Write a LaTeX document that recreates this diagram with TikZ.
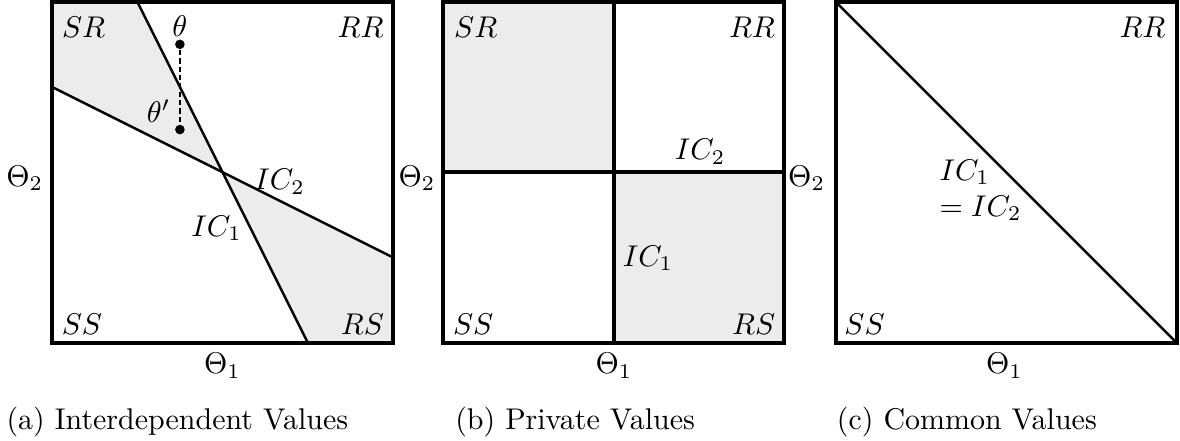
\documentclass[tikz,border=0pt]{standalone}
\usepackage{amsmath,amssymb}
\usepackage{tikz}

\begin{document}
\begin{tikzpicture}[
  box/.style={line width=1.3pt},
  ic/.style={thick},
  region/.style={fill=gray!15},
  dot/.style={circle, fill, inner sep=0pt, minimum size=3.2pt}
]
\useasboundingbox (0,0) rectangle (13.84,5.17);
\newcommand{\Side}{4.0}; % square side

% (a) interdependent values
\begin{scope}[shift={(0.61,1.15)}]
\coordinate (aSW) at (0,0);
\coordinate (aNE) at (\Side,\Side);
\coordinate (aTop) at (1,\Side);   % upper end of IC1
\coordinate (aBot) at (3,0);       % lower end of IC1
\coordinate (aLeft) at (0,3);      % left end of IC2
\coordinate (aRight) at (\Side,1); % right end of IC2
\coordinate (aMid) at (2,2);
%
\fill[region] (0,\Side) -- (aTop) -- (aMid) -- (aLeft) -- cycle;
\fill[region] (aMid) -- (aRight) -- (\Side,0) -- (aBot) -- cycle;
\draw[ic] (aTop) -- (aBot);
\draw[ic] (aLeft) -- (aRight);
\draw[box] (aSW) rectangle (aNE);
%
\node[dot] (th) at (1.5,3.5) {};
\node[dot] (thp) at (1.5,2.5) {};
\draw[thick, dash pattern=on 1.8pt off 1pt] (th) -- (thp);
\node (thlab) at (1.5,3.71) {$\theta$};
\node (thplab) at (1.25,2.72) {$\theta'$};
%
\node (aSR) at (0.37,3.7) {$SR$};
\node (aRR) at (3.62,3.7) {$RR$};
\node (aSS) at (0.35,0.22) {$SS$};
\node (aRS) at (3.64,0.22) {$RS$};
\node (aIC1) at (1.93,1.34) {$IC_1$};
\node (aIC2) at (2.67,1.89) {$IC_2$};
\node (aT2) at (-0.32,1.93) {$\Theta_2$};
\node (aT1) at (2,-0.27) {$\Theta_1$};
\node (capa) at (1.47,-0.93) {(a) Interdependent Values};
\end{scope}

% (b) private values
\begin{scope}[shift={(5.20,1.15)}]
\coordinate (bSW) at (0,0);
\coordinate (bNE) at (\Side,\Side);
\coordinate (bTop) at (2,\Side);
\coordinate (bBot) at (2,0);
\coordinate (bLeft) at (0,2);
\coordinate (bRight) at (\Side,2);
%
\fill[region] (bLeft) rectangle (bTop);
\fill[region] (bBot) rectangle (bRight);
\draw[box] (bTop) -- (bBot);
\draw[box] (bLeft) -- (bRight);
\draw[box] (bSW) rectangle (bNE);
%
\node (bSR) at (0.38,3.7) {$SR$};
\node (bRR) at (3.62,3.7) {$RR$};
\node (bSS) at (0.35,0.22) {$SS$};
\node (bRS) at (3.64,0.22) {$RS$};
\node (bIC1) at (2.40,0.99) {$IC_1$};
\node (bIC2) at (3.01,2.24) {$IC_2$};
\node (bT2) at (-0.31,1.93) {$\Theta_2$};
\node (bT1) at (2,-0.27) {$\Theta_1$};
\node (capb) at (1.545,-0.93) {(b) Private Values};
\end{scope}

% (c) common values
\begin{scope}[shift={(9.80,1.15)}]
\coordinate (cSW) at (0,0);
\coordinate (cNE) at (\Side,\Side);
\coordinate (cTop) at (0,\Side);
\coordinate (cBot) at (\Side,0);
%
\draw[ic] (cTop) -- (cBot);
\draw[box] (cSW) rectangle (cNE);
%
\node (cRR) at (3.6,3.7) {$RR$};
\node (cSS) at (0.34,0.22) {$SS$};
\node[align=left] (cIC) at (1.7,1.79) {$IC_1$\\$=IC_2$};
\node (cT2) at (-0.34,1.93) {$\Theta_2$};
\node (cT1) at (1.98,-0.27) {$\Theta_1$};
\node (capc) at (1.54,-0.93) {(c) Common Values};
\end{scope}
\end{tikzpicture}
\end{document}
